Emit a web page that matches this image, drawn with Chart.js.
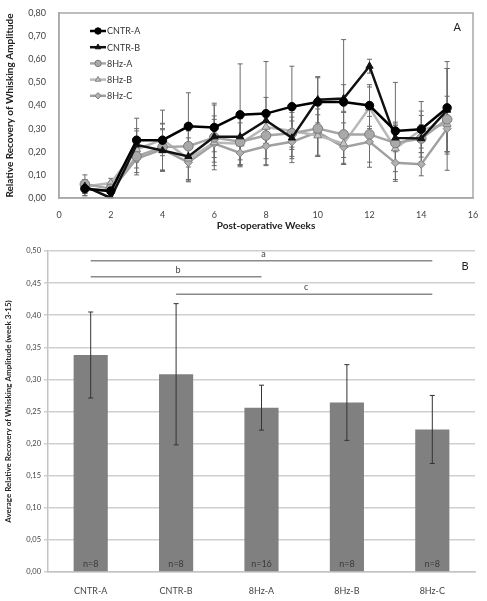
<!DOCTYPE html>
<html>
<head>
<meta charset="utf-8">
<script src="https://cdn.jsdelivr.net/npm/chart.js@4.4.0/dist/chart.umd.min.js"></script>
<style>
  body { margin: 0; background: #fff; }
  #wrap { position: relative; width: 487px; height: 601px; }
  #lineChart { position: absolute; left: 0; top: 0; }
  #barChart { position: absolute; left: 0; top: 232px; }
</style>
</head>
<body>
<div id="wrap">
  <canvas id="lineChart" width="487" height="232"></canvas>
  <canvas id="barChart" width="487" height="369"></canvas>
</div>
<script>
// Panel A data: weekly relative recovery per group
const weeks = [1, 2, 3, 4, 5, 6, 7, 8, 9, 10, 11, 12, 13, 14, 15];
const cntrA = [0.04, 0.03, 0.25, 0.25, 0.31, 0.305, 0.36, 0.365, 0.395, 0.415, 0.415, 0.40, 0.29, 0.297, 0.39];
const cntrB = [0.05, 0.00, 0.23, 0.205, 0.18, 0.265, 0.265, 0.335, 0.26, 0.425, 0.43, 0.57, 0.26, 0.257, 0.38];
const hzA = [0.06, 0.04, 0.18, 0.22, 0.224, 0.262, 0.243, 0.27, 0.28, 0.30, 0.275, 0.275, 0.238, 0.257, 0.34];
const hzB = [0.05, 0.065, 0.21, 0.253, 0.17, 0.24, 0.235, 0.307, 0.29, 0.27, 0.235, 0.39, 0.214, 0.296, 0.32];
const hzC = [0.04, 0.03, 0.17, 0.21, 0.154, 0.235, 0.195, 0.224, 0.243, 0.285, 0.22, 0.243, 0.152, 0.146, 0.30];
const cntrAErr = [0.03, 0.03, 0.095, 0.13, 0.145, 0.105, 0.22, 0.225, 0.175, 0.105, 0.27, 0.09, 0.21, 0.12, 0.20];
const cntrBErr = [0.03, 0.01, 0.07, 0.09, 0.11, 0.09, 0.10, 0.10, 0.09, 0.10, 0.06, 0.03, 0.06, 0.06, 0.18];
const hzAErr = [0.04, 0.03, 0.07, 0.10, 0.09, 0.14, 0.10, 0.10, 0.10, 0.12, 0.10, 0.12, 0.09, 0.10, 0.22];
const hzBErr = [0.03, 0.02, 0.08, 0.07, 0.09, 0.10, 0.09, 0.07, 0.08, 0.09, 0.09, 0.09, 0.10, 0.08, 0.12];
const hzCErr = [0.03, 0.02, 0.07, 0.09, 0.08, 0.08, 0.06, 0.08, 0.09, 0.10, 0.07, 0.11, 0.08, 0.05, 0.10];

// Panel B data: average over weeks 3-15
const groups = ['CNTR-A', 'CNTR-B', '8Hz-A', '8Hz-B', '8Hz-C'];
const avgValues = [0.338, 0.308, 0.256, 0.264, 0.222];
const avgErr = [0.067, 0.11, 0.035, 0.059, 0.053];
const groupN = ['n=8', 'n=8', 'n=16', 'n=8', 'n=8'];
const sigLabels = ['a', 'b', 'c'];
const sigFrom = [0, 0, 1];
const sigTo = [4, 2, 4];
const sigLevel = [0.485, 0.46, 0.4325];

const FONT = 'Lato, "Open Sans", sans-serif';
const comma = (v) => v.toFixed(2).replace('.', ',');
const pts = (ys) => ys.map((y, i) => ({ x: weeks[i], y }));

// error bars for the line chart, drawn under the markers
const lineErrorBars = {
  id: 'lineErrorBars',
  beforeDatasetsDraw(chart) {
    const { ctx, scales: { x, y } } = chart;
    ctx.save();
    ctx.strokeStyle = '#6a6a6a';
    ctx.lineWidth = 1;
    chart.data.datasets.forEach((ds) => {
      ds.err.forEach((e, i) => {
        const px = x.getPixelForValue(weeks[i]);
        const top = y.getPixelForValue(ds.data[i].y + e);
        const bot = y.getPixelForValue(Math.max(0, ds.data[i].y - e));
        ctx.beginPath();
        ctx.moveTo(px, top); ctx.lineTo(px, bot);
        ctx.moveTo(px - 2.5, top); ctx.lineTo(px + 2.5, top);
        ctx.moveTo(px - 2.5, bot); ctx.lineTo(px + 2.5, bot);
        ctx.stroke();
      });
    });
    ctx.restore();
  }
};

// legend and panel letter inside the plot of panel A
const lineLegend = {
  id: 'lineLegend',
  afterDraw(chart) {
    const { ctx, chartArea } = chart;
    ctx.save();
    chart.data.datasets.forEach((ds, i) => {
      const yy = chartArea.top + 18 + i * 16.2;
      const x0 = chartArea.left + 31;
      ctx.strokeStyle = ds.borderColor;
      ctx.lineWidth = ds.borderWidth;
      ctx.beginPath();
      ctx.moveTo(x0, yy); ctx.lineTo(x0 + 16, yy);
      ctx.stroke();
      ctx.fillStyle = ds.pointBackgroundColor;
      ctx.strokeStyle = ds.pointBorderColor;
      ctx.lineWidth = 1;
      Chart.helpers.drawPoint(ctx, { pointStyle: ds.pointStyle, radius: 3.2, borderWidth: 1 }, x0 + 8, yy);
      ctx.fillStyle = '#333';
      ctx.font = '9px ' + FONT;
      ctx.textBaseline = 'middle';
      ctx.fillText(ds.label, x0 + 17, yy + 0.5);
    });
    ctx.fillStyle = '#222';
    ctx.font = '11px ' + FONT;
    ctx.textAlign = 'right';
    ctx.fillText('A', chartArea.right - 12, chartArea.top + 14);
    ctx.restore();
  }
};

const lineSet = (label, data, err, line, fill, border, style, radius) => ({
  label, data: pts(data), err,
  borderColor: line, borderWidth: 2.5,
  pointStyle: style, pointRadius: radius,
  pointBackgroundColor: fill, pointBorderColor: border, pointBorderWidth: 1,
  tension: 0
});

new Chart(document.getElementById('lineChart'), {
  type: 'line',
  data: {
    datasets: [
      lineSet('CNTR-A', cntrA, cntrAErr, '#000', '#000', '#000', 'circle', 4.2),
      lineSet('CNTR-B', cntrB, cntrBErr, '#111', '#111', '#111', 'triangle', 4.2),
      lineSet('8Hz-A', hzA, hzAErr, '#a6a6a6', '#a9a9a9', '#7a7a7a', 'circle', 4.8),
      lineSet('8Hz-B', hzB, hzBErr, '#b8b8b8', '#c4c4c4', '#808080', 'triangle', 4.6),
      lineSet('8Hz-C', hzC, hzCErr, '#a0a0a0', '#b0b0b0', '#808080', 'rectRot', 4)
    ]
  },
  options: {
    responsive: false,
    animation: false,
    layout: { padding: { top: 13, right: 14, left: 0, bottom: 0 } },
    plugins: { legend: { display: false }, tooltip: { enabled: false } },
    scales: {
      x: {
        type: 'linear', min: 0, max: 16,
        afterFit: (s) => { s.height = 34; },
        border: { display: true, color: '#a8a8a8', width: 1.5 },
        grid: { display: false },
        ticks: { stepSize: 2, color: '#444', font: { family: FONT, size: 9 }, padding: 4 },
        title: { display: true, text: 'Post-operative Weeks', color: '#222', font: { family: FONT, size: 10, weight: 'bold' }, padding: { top: 4, bottom: 0 } }
      },
      y: {
        min: 0, max: 0.8,
        afterFit: (s) => { s.width = 59; },
        border: { display: true, color: '#a8a8a8', width: 1.5 },
        grid: { display: false },
        ticks: { stepSize: 0.1, color: '#444', font: { family: FONT, size: 9 }, padding: 5, callback: comma },
        title: { display: true, text: 'Relative Recovery of Whisking Amplitude', color: '#222', font: { family: FONT, size: 10, weight: 'bold' }, padding: { bottom: 2 } }
      }
    }
  },
  plugins: [lineErrorBars, lineLegend, {
    id: 'box',
    afterDraw(chart) {
      const { ctx, chartArea: a } = chart;
      ctx.save();
      ctx.strokeStyle = '#a8a8a8';
      ctx.lineWidth = 1.5;
      ctx.strokeRect(a.left, a.top, a.right - a.left, a.bottom - a.top);
      ctx.restore();
    }
  }]
});

// error bars, n labels and significance lines for panel B
const barExtras = {
  id: 'barExtras',
  afterDatasetsDraw(chart) {
    const { ctx, scales: { x, y }, chartArea } = chart;
    ctx.save();
    ctx.strokeStyle = '#333';
    ctx.lineWidth = 1;
    avgValues.forEach((v, i) => {
      const px = x.getPixelForValue(i);
      const top = y.getPixelForValue(v + avgErr[i]);
      const bot = y.getPixelForValue(v - avgErr[i]);
      ctx.beginPath();
      ctx.moveTo(px, top); ctx.lineTo(px, bot);
      ctx.moveTo(px - 2.5, top); ctx.lineTo(px + 2.5, top);
      ctx.moveTo(px - 2.5, bot); ctx.lineTo(px + 2.5, bot);
      ctx.stroke();
      ctx.fillStyle = '#3a3a3a';
      ctx.font = '9px ' + FONT;
      ctx.textAlign = 'center';
      ctx.textBaseline = 'middle';
      ctx.fillText(groupN[i], px, y.getPixelForValue(0) - 8);
    });
    ctx.strokeStyle = '#8a8a8a';
    ctx.lineWidth = 1.5;
    sigLabels.forEach((lab, i) => {
      const x1 = x.getPixelForValue(sigFrom[i]);
      const x2 = x.getPixelForValue(sigTo[i]);
      const py = y.getPixelForValue(sigLevel[i]);
      ctx.beginPath();
      ctx.moveTo(x1, py); ctx.lineTo(x2, py);
      ctx.stroke();
      ctx.fillStyle = '#444';
      ctx.font = '9px ' + FONT;
      ctx.textAlign = 'center';
      ctx.textBaseline = 'middle';
      ctx.fillText(lab, (x1 + x2) / 2 + 2, py - 7);
    });
    ctx.fillStyle = '#222';
    ctx.font = '11px ' + FONT;
    ctx.textAlign = 'center';
    ctx.fillText('B', chartArea.right - 10, y.getPixelForValue(0.476));
    ctx.restore();
  }
};

new Chart(document.getElementById('barChart'), {
  type: 'bar',
  data: {
    labels: groups,
    datasets: [{
      data: avgValues,
      backgroundColor: '#808080',
      borderWidth: 0,
      barPercentage: 0.4,
      categoryPercentage: 1
    }]
  },
  options: {
    responsive: false,
    animation: false,
    layout: { padding: { top: 19, right: 12, left: 0, bottom: 0 } },
    plugins: { legend: { display: false }, tooltip: { enabled: false } },
    scales: {
      x: {
        afterFit: (s) => { s.height = 29; },
        border: { display: true, color: '#c4c4c4', width: 1.5 },
        grid: { display: false },
        ticks: { color: '#444', font: { family: FONT, size: 9 }, padding: 6 }
      },
      y: {
        min: 0, max: 0.5,
        afterFit: (s) => { s.width = 48; },
        border: { display: true, color: '#c4c4c4', width: 1.5 },
        grid: { color: '#cfcfcf', lineWidth: 1.5, tickLength: 4 },
        ticks: { stepSize: 0.05, color: '#444', font: { family: FONT, size: 7.5 }, padding: 3, callback: comma },
        title: { display: true, text: 'Average Relative Recovery of Whisking Amplitude (week 3-15)', color: '#222', font: { family: FONT, size: 8, weight: 'bold' }, padding: { bottom: 4 } }
      }
    }
  },
  plugins: [barExtras]
});
</script>
</body>
</html>
